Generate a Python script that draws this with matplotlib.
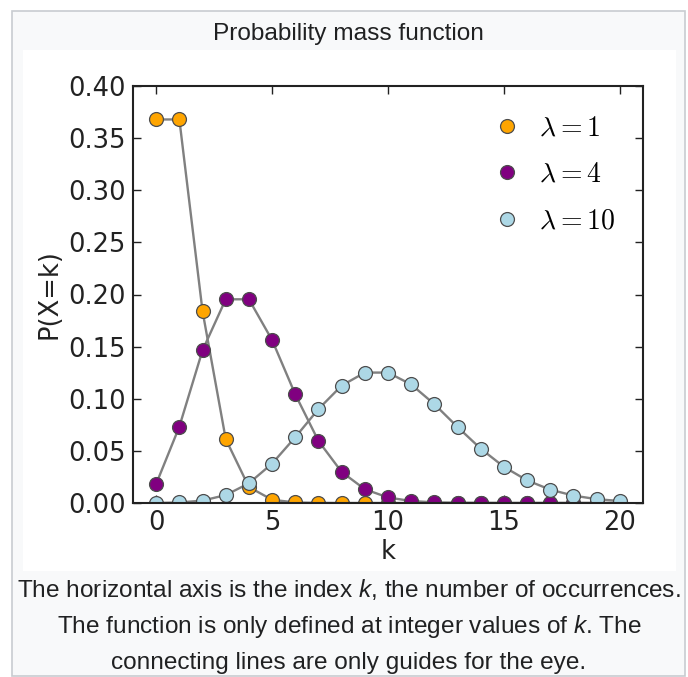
import matplotlib
matplotlib.use('Agg')
import matplotlib.pyplot as plt
from matplotlib.patches import Rectangle

# Poisson pmf values, k = 0..20
k = list(range(21))
p_lam1 = [0.3679, 0.3679, 0.1839, 0.0613, 0.0153, 0.0031, 0.0005, 0.0001, 0.0, 0.0,
          0.0, 0.0, 0.0, 0.0, 0.0, 0.0, 0.0, 0.0, 0.0, 0.0, 0.0]
p_lam4 = [0.0183, 0.0733, 0.1465, 0.1954, 0.1954, 0.1563, 0.1042, 0.0595, 0.0298, 0.0132,
          0.0053, 0.0019, 0.0006, 0.0002, 0.0001, 0.0, 0.0, 0.0, 0.0, 0.0, 0.0]
p_lam10 = [0.0000, 0.0005, 0.0023, 0.0076, 0.0189, 0.0378, 0.0631, 0.0901, 0.1126, 0.1251,
           0.1251, 0.1137, 0.0948, 0.0729, 0.0521, 0.0347, 0.0217, 0.0128, 0.0071, 0.0037, 0.0019]
labels = [r'$\lambda=1$', r'$\lambda=4$', r'$\lambda=10$']
colors = ['orange', 'purple', 'lightblue']

caption = ['The horizontal axis is the index $k$, the number of occurrences.',
           'The function is only defined at integer values of $k$. The',
           'connecting lines are only guides for the eye.']

plt.rcParams['mathtext.fontset'] = 'custom'
plt.rcParams['mathtext.rm'] = 'Liberation Sans'
plt.rcParams['mathtext.it'] = 'Liberation Sans:italic'

W, H = 688, 677
fig = plt.figure(figsize=(W / 100, H / 100), dpi=100)
fig.patch.set_facecolor('white')

def px(x, y):
    return x / W, 1 - y / H

# wiki thumbnail frame
x0, y0 = px(12, 676)
x1, y1 = px(685, 11)
fig.patches.append(Rectangle((x0, y0), x1 - x0, y1 - y0, transform=fig.transFigure,
                             facecolor='#f8f9fa', edgecolor='#c8ccd1', lw=1.2, zorder=-2))
x0, y0 = px(23, 571)
x1, y1 = px(676, 50)
fig.patches.append(Rectangle((x0, y0), x1 - x0, y1 - y0, transform=fig.transFigure,
                             facecolor='white', edgecolor='none', zorder=-1))

tx, ty = px(348, 34)
fig.text(tx, ty, 'Probability mass function', ha='center', va='center',
         family='Liberation Sans', fontsize=17.6, color='#202122')
for line, yy in zip(caption, [590, 627, 663]):
    tx, ty = px(349, yy)
    fig.text(tx, ty, line, ha='center', va='center', family='Liberation Sans',
             fontsize=17.6, color='#202122')

ax_l, ax_b = px(133, 503)
ax_r, ax_t = px(643, 86)
ax = fig.add_axes([ax_l, ax_b, ax_r - ax_l, ax_t - ax_b])
ax.set_zorder(1)

for p, c, lab in zip([p_lam1, p_lam4, p_lam10], colors, labels):
    ax.plot(k, p, '-', color='0.5', lw=1.7, zorder=1)
    ax.plot(k, p, 'o', color=c, mec='0.3', mew=0.9, ms=10, label=lab, zorder=2)

ax.set_xlim(-1, 21)
ax.set_ylim(0, 0.4)
ax.set_xticks([0, 5, 10, 15, 20])
ax.set_yticks([0, 0.05, 0.1, 0.15, 0.2, 0.25, 0.3, 0.35, 0.4])
ax.set_yticklabels(['%.2f' % v for v in ax.get_yticks()])
ax.tick_params(direction='in', length=6, width=1, labelsize=18.5, top=True, right=True,
               colors='#222222', pad=5)
for s in ax.spines.values():
    s.set_linewidth(1.5)
    s.set_color('#222222')
ax.set_xlabel('k', fontsize=18.5, labelpad=2, color='#222222')
ax.set_ylabel('P(X=k)', fontsize=18.5, labelpad=4, color='#222222')

ax.legend(loc='upper right', numpoints=1, frameon=False, handletextpad=0.4,
          handlelength=1.5, labelspacing=0.66, borderaxespad=0.6,
          prop={'size': 20, 'math_fontfamily': 'cm'})

fig.savefig('out.png', dpi=100)
